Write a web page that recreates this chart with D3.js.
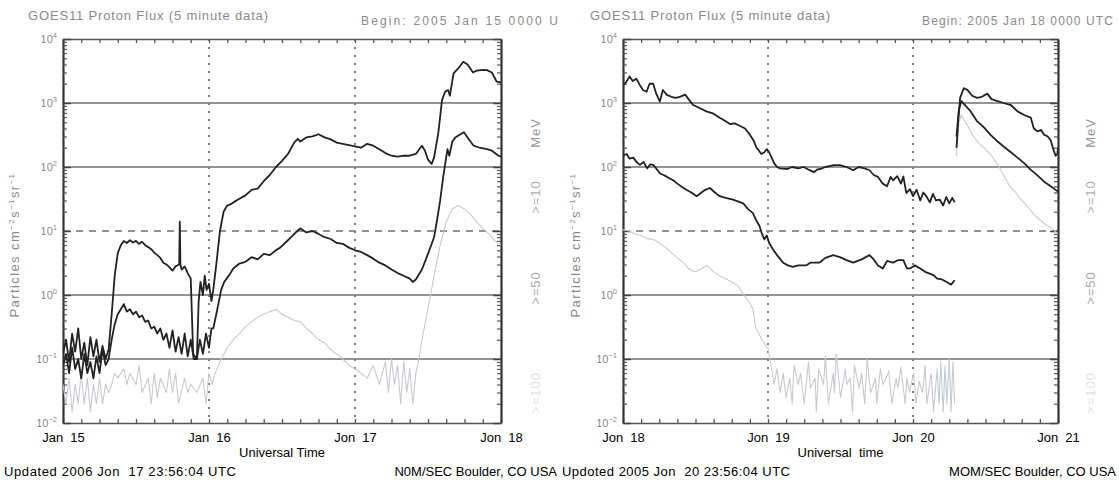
<!DOCTYPE html>
<html>
<head>
<meta charset="utf-8">
<script src="https://cdn.jsdelivr.net/npm/d3@7"></script>
<style>
  body { margin: 0; background: #fff; }
  svg text { font-family: "Liberation Sans", Arial, sans-serif; white-space: pre; }
</style>
</head>
<body>
<svg id="chart" width="1119" height="483"></svg>
<script>
// GOES11 proton flux, two 3-day panels. Values are [hour since panel start, flux in pfu]
// null flux = data gap

const dayTicks = [0, 24, 48, 72];
const leftDayLabels = ['Jan  15', 'Jan  16', 'Jon  17', 'Jon  18'];
const rightDayLabels = ['Jon  18', 'Jon  19', 'Jon  20', 'Jon  21'];
const decadeExponents = [-2, -1, 0, 1, 2, 3, 4];
const energyLabels = ['MeV', '>=10', '>=50', '>=100'];

// left panel, 2005 Jan 15-18
const left10 = [[0,0.12],[0.5,0.2],[1,0.09],[1.5,0.25],[2,0.13],[2.5,0.3],[3,0.1],[3.5,0.18],[4,0.08],[4.5,0.22],
  [5,0.11],[5.5,0.2],[6,0.09],[6.5,0.16],[7,0.1],[7.5,0.14],[8,0.5],[8.5,2],[9,4.5],[9.5,6],[10,7],[10.5,6.5],
  [11,7.2],[11.5,6.6],[12,7],[12.5,6.3],[13,6.8],[13.5,6],[14,5.6],[14.5,5.2],[15,4.6],[15.5,4.2],[16,3.8],
  [16.5,3.2],[17,3],[17.5,2.7],[18,2.4],[18.5,2.8],[19.1,3],[19.2,14],[19.3,3],[19.5,2.5],[20,2.8],[20.5,2.2],
  [21,1.8],[21.4,0.12],[22,0.1],[22.3,0.8],[22.6,1.6],[23,1],[23.3,2],[23.6,1.2],[24,1.5],[24.4,0.8],[24.7,1.2],
  [25.2,3],[25.8,10],[26.4,20],[27,25],[27.5,26],[28,28],[29,32],[30,36],[31,44],[32,46],[33,60],[34,75],
  [35,100],[36,125],[37,160],[38,240],[38.6,275],[39,250],[40,290],[41,300],[42,325],[43,290],[44,270],[45,240],
  [46,230],[47,220],[48,210],[49,200],[50,230],[51,215],[52,190],[53,165],[54,150],[55,145],[56,150],[57,150],
  [58,160],[59,215],[59.5,180],[60,130],[60.6,112],[61,140],[61.7,345],[62.3,1100],[62.8,1500],[63.3,1600],
  [63.6,1300],[64.2,2900],[65,3500],[65.8,4400],[66.5,4000],[67.4,3000],[68,3200],[69,3300],[69.7,3260],
  [70.5,3000],[71.3,2150],[72,2100]];

const left50 = [[0,0.08],[0.5,0.12],[1,0.06],[1.5,0.15],[2,0.07],[2.5,0.1],[3,0.05],[3.5,0.12],[4,0.06],[4.5,0.09],
  [5,0.05],[5.5,0.11],[6,0.06],[6.5,0.14],[7,0.08],[7.5,0.1],[8,0.2],[8.5,0.35],[9,0.5],[9.5,0.6],[10,0.72],
  [10.5,0.55],[11,0.6],[11.5,0.5],[12,0.55],[12.5,0.45],[13,0.48],[13.5,0.38],[14,0.4],[14.5,0.3],[15,0.32],
  [15.5,0.25],[16,0.3],[16.5,0.2],[17,0.25],[17.5,0.15],[18,0.28],[18.5,0.13],[19,0.22],[19.5,0.12],[20,0.25],
  [20.5,0.11],[21,0.2],[21.5,0.1],[22,0.1],[22.5,0.2],[23,0.12],[23.5,0.25],[24,0.15],[24.4,0.3],[24.7,0.3],
  [25.2,0.5],[26,1.2],[26.5,1.6],[27.4,2.1],[28,2.6],[29,3.1],[30,3.3],[31,3.9],[32,3.6],[33,4.4],[34,4.2],
  [35,5],[35.7,5.5],[36.5,6.5],[37.5,8],[38.5,10],[39,11],[40,9.5],[41,10],[42,9],[43,8],[44,7.5],[45,6.5],
  [46,6.3],[47,5.5],[48,5],[49,4.7],[50,4.2],[51,3.7],[52,3.2],[53,2.9],[54,2.5],[55,2.2],[56,2],[57,1.8],
  [57.5,1.6],[58,1.75],[59,2.5],[60,4.4],[61,8],[61.5,15],[62,30],[62.5,70],[62.8,107],[63.2,190],[63.5,150],
  [64,250],[64.5,290],[65,310],[65.9,350],[66.5,290],[67.5,215],[68.5,200],[69.7,190],[70.5,180],[71.6,150],[72,145]];

const left100 = [[0,0.04],[0.5,0.02],[1,0.05],[1.5,0.015],[2,0.04],[2.5,0.02],[3,0.06],[3.5,0.02],[4,0.05],
  [4.5,0.015],[5,0.04],[5.5,0.02],[6,0.05],[6.5,0.02],[7,0.04],[7.5,0.03],[8,0.04],[8.5,0.06],[9,0.05],[10,0.07],
  [10.5,0.04],[11,0.06],[12,0.04],[12.5,0.08],[13,0.03],[14,0.05],[14.5,0.02],[15,0.06],[15.5,0.025],[16,0.05],
  [17,0.03],[17.5,0.07],[18,0.03],[18.5,0.06],[19,0.02],[20,0.05],[20.5,0.03],[21,0.04],[22,0.03],[23,0.05],
  [23.5,0.02],[24,0.06],[24.5,0.04],[25,0.06],[26,0.1],[27,0.15],[28,0.2],[29,0.25],[30,0.32],[31,0.38],[32,0.45],
  [33,0.5],[34,0.55],[35,0.6],[36,0.5],[37,0.45],[38,0.4],[39,0.38],[40,0.3],[41,0.25],[42,0.2],[43,0.18],
  [44,0.14],[45,0.12],[46,0.1],[47,0.08],[48,0.07],[49,0.06],[50,0.05],[51,0.08],[52,0.04],[53,0.09],[53.5,0.03],
  [54,0.1],[54.5,0.04],[55,0.08],[55.5,0.02],[56,0.09],[56.5,0.03],[57,0.07],[57.5,0.02],[58,0.06],[58.5,0.1],
  [59,0.2],[60,0.6],[61,2],[62,6],[63,14],[64,22],[65,25],[66,22],[67,18],[68,14],[69,11],[70,9],[71,7],[72,6]];

// right panel, 2005 Jan 18-21
const right10 = [[0,1900],[0.5,2100],[1.1,2600],[1.6,2200],[2.2,2400],[2.8,1900],[3.3,1600],[3.9,1500],[4.4,2000],
  [5,2000],[5.5,1400],[6.1,1050],[6.6,1600],[7.2,1350],[8,1250],[8.7,1200],[9.4,1250],[10.3,1350],[11,1100],
  [11.6,930],[12.5,850],[13.8,740],[15,680],[16,590],[17,520],[17.7,470],[18.5,480],[19.3,440],[20.2,400],
  [21,320],[21.6,260],[22.1,200],[22.5,180],[22.9,160],[23.4,170],[23.8,190],[24.2,170],[24.6,140],[25,115],
  [25.5,100],[26,95],[27.2,93],[28,100],[29,95],[29.9,100],[30.8,90],[31.6,83],[32.2,92],[32.7,93],[33.5,100],
  [34.9,107],[35.9,107],[37,100],[38.1,89],[39,100],[40,95],[40.8,89],[41.5,75],[42.2,70],[43,55],[43.7,50],
  [44.3,70],[44.7,62],[45.4,72],[46,55],[46.4,71],[46.9,39],[47.5,45],[48,35],[48.6,44],[49.2,30],[49.7,40],
  [50.2,35],[50.8,28],[51.3,38],[51.8,30],[52.4,31],[53,25],[53.5,34],[54,27],[54.5,33],[54.9,28],[55.05,null],
  [55.2,200],[55.5,550],[55.8,1200],[56.4,1700],[57,1600],[57.8,1300],[58.6,1200],[59.4,1250],[60.3,1400],
  [61,1150],[62,1070],[63,1000],[64.2,930],[65.3,740],[66.4,650],[67.5,590],[68,400],[68.6,360],[69.2,380],
  [69.7,320],[70.3,300],[70.8,260],[71.3,180],[71.6,150],[71.9,160],[72,200]];

const right50 = [[0,150],[0.6,160],[1.1,135],[1.7,140],[2.3,118],[2.8,108],[3.4,120],[4,95],[4.5,110],[5,108],
  [5.5,95],[6.1,80],[6.7,75],[7.3,70],[8.3,62],[9,55],[10,47],[10.5,44],[11.3,40],[12.2,35],[13,40],[13.6,44],
  [14.4,47],[15.2,40],[16,35],[17,33],[18.2,31],[19,29],[19.9,27],[20.7,22],[21.5,19],[22,15],[22.6,12],[23,9],
  [23.4,7.4],[23.8,8.5],[24.2,6.5],[24.8,5.2],[25.5,4.2],[26.5,3.2],[27.3,2.9],[28.1,2.75],[29,2.9],[30.3,2.9],
  [31,3.2],[32.5,3.2],[33.5,3.8],[34.8,4.2],[35.9,3.9],[37,3.5],[38.1,3.2],[39.5,3.6],[40.8,4.2],[41.5,3.6],
  [42.2,2.9],[43,2.6],[43.7,3.4],[44.7,3.2],[45.5,3.5],[46.4,3.5],[47,2.6],[47.5,2.6],[48.3,2.9],[49.2,2.6],
  [50,2.3],[51.4,2.05],[52,1.8],[52.8,1.75],[53.6,1.6],[54.3,1.45],[54.9,1.7],[55.05,null],[55.2,300],[55.6,800],
  [56,1070],[56.5,950],[57.5,750],[58.6,520],[59.7,420],[60.8,320],[62,250],[63.1,205],[64.2,170],[65.3,140],
  [66.4,115],[67.5,90],[68.6,74],[69.7,59],[70.8,50],[71.9,42],[72,41]];

const right100 = [[0,10.5],[1,10],[2,9],[3,8.5],[4,7.6],[5,7.4],[6,6.5],[7,5.6],[8,4.6],[9,3.8],[10,3.2],[11,2.5],
  [12,2.3],[13,2.6],[14,2.9],[15,2.3],[16,2],[17,1.8],[18,1.6],[19,1.4],[20,1],[21,0.75],[21.5,0.6],[22,0.3],
  [22.5,0.25],[23,0.2],[23.5,0.17],[24,0.15],[24.5,0.08],[25,0.04],[25.5,0.07],[26,0.03],[26.5,0.06],[27,0.025],
  [27.6,0.05],[28,0.02],[28.3,0.08],[29,0.04],[29.4,0.06],[30,0.02],[30.7,0.09],[31,0.035],[31.8,0.05],[32,0.015],
  [32.4,0.07],[33.2,0.04],[33.5,0.11],[34,0.02],[34.8,0.06],[35,0.03],[35.3,0.12],[36,0.025],[36.8,0.07],[37,0.04],
  [37.6,0.05],[38,0.015],[38.3,0.08],[39.1,0.035],[39.5,0.06],[40,0.02],[40.4,0.1],[41,0.03],[41.8,0.05],[42,0.02],
  [42.6,0.07],[43,0.04],[43.3,0.045],[44,0.065],[44.5,0.02],[45.2,0.05],[45.5,0.035],[46,0.075],[46.7,0.02],[47,0.05],
  [47.4,0.03],[48.1,0.06],[48.5,0.02],[49,0.045],[49.6,0.03],[50,0.08],[50.3,0.02],[51,0.06],[51.4,0.015],[52,0.07],
  [52.3,0.02],[52.6,0.09],[53,0.015],[53.3,0.08],[53.6,0.02],[54,0.1],[54.3,0.015],[54.6,0.09],[54.9,0.02],
  [55.05,null],[55.2,150],[55.6,500],[56,650],[57,450],[58,300],[59,230],[60,190],[61,150],[62,110],[63,75],
  [64,50],[65,40],[66,30],[67,24],[68,18],[69,15],[70,12.5],[71,11],[72,9]];

const PLOT_TOP = 39, PLOT_BOTTOM = 423;
const DARK = '#222', FAINT = '#c6cacf', LABEL_GREY = '#8a8a8a';

const panels = [
  { id: 'L', x0: 63, x1: 501, dayLabels: leftDayLabels, timeTitle: 'Universal Time',
    begin: 'Begin: 2005 Jan 15 0000 U', beginLen: 197, titleX: 28, beginX: 361, yTitleX: 14, energyX: 535,
    updated: 'Updated 2006 Jon  17 23:56:04 UTC', updatedLen: 232, updatedX: 4,
    origin: 'N0M/SEC Boulder, CO USA', originX: 557, series: [left100, left50, left10] },
  { id: 'R', x0: 623, x1: 1058, dayLabels: rightDayLabels, timeTitle: 'Universal  time',
    begin: 'Begin: 2005 Jan 18 0000 UTC', beginLen: 191, titleX: 590, beginX: 922, yTitleX: 575, energyX: 1090,
    updated: 'Updoted 2005 Jon  20 23:56:04 UTC', updatedLen: 228, updatedX: 562,
    origin: 'MOM/SEC Boulder, CO USA', originX: 1116, series: [right100, right50, right10] }
];

const svg = d3.select('#chart');
const y = d3.scaleLog().domain([0.01, 10000]).range([PLOT_BOTTOM, PLOT_TOP]);
const minorTicks = y.ticks().filter(v => Math.abs(Math.log10(v) - Math.round(Math.log10(v))) > 1e-6);
const energyY = [133, 197, 288, 393];
const energyColors = ['#999', '#b0b0b0', '#aaa', '#e2e2e2'];

function drawPanel(p) {
  const x = d3.scaleLinear().domain([0, 72]).range([p.x0, p.x1]);
  const g = svg.append('g').attr('class', 'panel-' + p.id);

  const clipId = 'clip' + p.id;
  g.append('clipPath').attr('id', clipId).append('rect')
    .attr('x', p.x0).attr('y', PLOT_TOP).attr('width', p.x1 - p.x0).attr('height', PLOT_BOTTOM - PLOT_TOP);

  // decade grid lines (10^1 dashed)
  g.selectAll('line.grid').data(decadeExponents.slice(1, -1)).enter().append('line')
    .attr('class', 'grid')
    .attr('x1', p.x0).attr('x2', p.x1)
    .attr('y1', d => y(Math.pow(10, d))).attr('y2', d => y(Math.pow(10, d)))
    .attr('stroke', '#707070').attr('stroke-width', 1.6)
    .attr('stroke-dasharray', d => d === 1 ? '7,6' : null);

  // day boundary dotted lines
  g.selectAll('line.day').data(dayTicks.slice(1, -1)).enter().append('line')
    .attr('class', 'day')
    .attr('x1', d => x(d)).attr('x2', d => x(d))
    .attr('y1', PLOT_TOP).attr('y2', PLOT_BOTTOM)
    .attr('stroke', '#808080').attr('stroke-width', 2).attr('stroke-dasharray', '2,6');

  // top and bottom frames with 3-hour ticks
  g.append('g').attr('transform', `translate(0,${PLOT_TOP})`)
    .call(d3.axisBottom(x).tickValues(d3.range(0, 73, 3)).tickSize(4).tickSizeOuter(0).tickFormat(''))
    .call(a => a.selectAll('path,line').attr('stroke', '#555').attr('stroke-width', 1.3));
  g.append('g').attr('transform', `translate(0,${PLOT_BOTTOM})`)
    .call(d3.axisTop(x).tickValues(d3.range(0, 73, 3)).tickSize(4).tickSizeOuter(0).tickFormat(''))
    .call(a => a.selectAll('path,line').attr('stroke', '#555').attr('stroke-width', 1.3));

  // left and right frames with log ticks
  [[d3.axisRight, p.x0], [d3.axisLeft, p.x1]].forEach(([axisFn, xPos]) => {
    g.append('g').attr('transform', `translate(${xPos},0)`)
      .call(axisFn(y).tickValues(minorTicks).tickSize(4).tickSizeOuter(0).tickFormat(''))
      .call(a => a.selectAll('path').attr('stroke', '#333').attr('stroke-width', 2.2))
      .call(a => a.selectAll('line').attr('stroke', '#555').attr('stroke-width', 1.2));
    g.append('g').attr('transform', `translate(${xPos},0)`)
      .call(axisFn(y).tickValues(decadeExponents.map(e => Math.pow(10, e))).tickSize(8).tickSizeOuter(0).tickFormat(''))
      .call(a => a.select('path').remove())
      .call(a => a.selectAll('line').attr('stroke', '#444').attr('stroke-width', 1.5));
  });

  // decade tick labels 10^n
  const yl = g.selectAll('text.ylab').data(decadeExponents).enter().append('text')
    .attr('class', 'ylab')
    .attr('x', p.x0 - 6).attr('y', d => y(Math.pow(10, d)) + 4)
    .attr('text-anchor', 'end').attr('fill', LABEL_GREY).attr('font-size', 11);
  yl.append('tspan').text('10');
  yl.append('tspan').attr('dy', -5).attr('font-size', 7.5).text(d => d < 0 ? '\u2212' + (-d) : d);

  // y axis title
  const yt = g.append('text')
    .attr('transform', `translate(${p.yTitleX + 5},245) rotate(-90)`)
    .attr('text-anchor', 'middle').attr('fill', LABEL_GREY).attr('font-size', 13)
    .attr('letter-spacing', 1.4);
  yt.append('tspan').text('Particles cm');
  yt.append('tspan').attr('dy', -5).attr('font-size', 8).text('\u22122');
  yt.append('tspan').attr('dy', 5).text('s');
  yt.append('tspan').attr('dy', -5).attr('font-size', 8).text('\u22121');
  yt.append('tspan').attr('dy', 5).text('sr');
  yt.append('tspan').attr('dy', -5).attr('font-size', 8).text('\u22121');

  // energy channel labels at the right
  g.selectAll('text.energy').data(energyLabels).enter().append('text')
    .attr('class', 'energy')
    .attr('transform', (d, i) => `translate(${p.energyX + 5},${energyY[i]}) rotate(-90)`)
    .attr('text-anchor', 'middle').attr('fill', (d, i) => energyColors[i])
    .attr('font-size', 13).attr('letter-spacing', 1).text(d => d);

  // titles
  g.append('text').attr('x', p.titleX).attr('y', 20).attr('fill', '#8a8a8a')
    .attr('font-size', 13).attr('textLength', 240).attr('lengthAdjust', 'spacing')
    .text('GOES11 Proton Flux (5 minute data)');
  g.append('text').attr('x', p.beginX).attr('y', 25).attr('fill', '#8a8a8a')
    .attr('font-size', 12).attr('textLength', p.beginLen).attr('lengthAdjust', 'spacing').text(p.begin);

  // day labels
  g.append('g').attr('transform', `translate(0,${PLOT_BOTTOM})`)
    .call(d3.axisBottom(x).tickValues(dayTicks).tickSize(0).tickPadding(10)
      .tickFormat((d, i) => p.dayLabels[i]))
    .call(a => a.select('path').remove())
    .call(a => a.selectAll('text').attr('font-size', 13).attr('fill', '#000')
      .attr('font-family', '"Liberation Sans", Arial, sans-serif'));

  g.append('text').attr('x', (p.x0 + p.x1) / 2).attr('y', 457).attr('text-anchor', 'middle')
    .attr('font-size', 13).attr('fill', '#000').text(p.timeTitle);
  g.append('text').attr('x', p.updatedX).attr('y', 476).attr('font-size', 13).attr('fill', '#000')
    .attr('textLength', p.updatedLen).attr('lengthAdjust', 'spacing').text(p.updated);
  g.append('text').attr('x', p.originX).attr('y', 476).attr('text-anchor', 'end')
    .attr('font-size', 13).attr('fill', '#000').text(p.origin);

  // flux lines
  const line = d3.line().defined(d => d[1] != null).x(d => x(d[0])).y(d => y(d[1]));
  const plot = g.append('g').attr('clip-path', `url(#${clipId})`);
  p.series.forEach((s, i) => {
    plot.append('path').datum(s)
      .attr('d', line)
      .attr('fill', 'none')
      .attr('stroke', i === 0 ? FAINT : DARK)
      .attr('stroke-width', i === 0 ? 1.1 : 1.8)
      .attr('stroke-linejoin', 'round');
  });
}

panels.forEach(drawPanel);
</script>
</body>
</html>
